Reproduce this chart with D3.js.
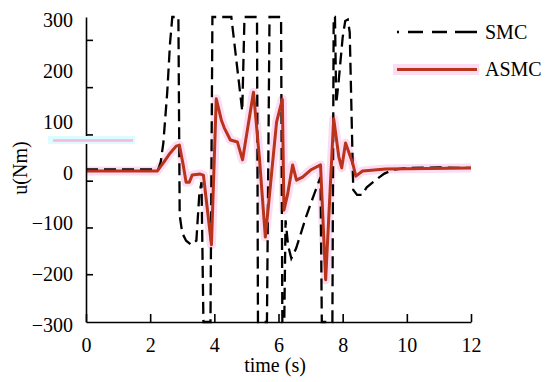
<!DOCTYPE html>
<html>
<head>
<meta charset="utf-8">
<script src="https://d3js.org/d3.v7.min.js"></script>
<style>
  body { margin: 0; background: #fff; }
  svg text { font-family: "Liberation Serif", "DejaVu Serif", serif; }
</style>
</head>
<body>
<div id="vis"></div>
<script>
//data----
const xTicks = [0, 2, 4, 6, 8, 10, 12]
const yLabels = [-300, -200, -100, 0, 100, 200, 300]
const yTickMarks = [-206, -114, -22, 69, 162, 255]

const tSMC = [0, 2.25, 2.33, 2.41, 2.53, 2.62, 2.69, 2.88, 2.92, 3.0, 3.12, 3.28, 3.44, 3.53, 3.6, 3.66,
    3.88, 3.94, 4.5, 4.53, 4.87, 4.94, 5.33, 5.36, 5.64, 5.72, 6.08, 6.12, 6.18, 6.22, 6.3, 6.4,
    6.55, 6.7, 6.85, 7.0, 7.15, 7.28, 7.31, 7.35, 7.68, 7.72, 7.76, 7.8, 7.87, 8.0, 8.08, 8.16,
    8.22, 8.28, 8.33, 8.45, 8.6, 8.75, 9.0, 9.3, 9.6, 10, 11, 12]
const uSMC = [0, 0, 15, 52, 150, 249, 300, 300, -90, -125, -140, -148, -140, -50, -25, -300,
    -300, 300, 300, 300, 115, 300, 300, -300, -300, 300, 300, -300, -300, -100, -150, -175,
    -155, -125, -95, -68, -42, -20, -15, -300, -300, 300, 300, 130, 170, 260, 292, 295,
    270, 100, -40, -50, -50, -35, -22, -8, 0, 3, 4, 3]

const tASMC = [0, 2.22, 2.41, 2.62, 2.81, 2.91, 3.03, 3.12, 3.22, 3.31, 3.56, 3.66, 3.91, 4.06,
    4.22, 4.31, 4.5, 4.72, 4.88, 5.22, 5.41, 5.59, 5.75, 5.94, 6.12, 6.17, 6.28, 6.44, 6.56,
    6.75, 7.0, 7.31, 7.47, 7.72, 7.88, 7.97, 8.09, 8.31, 8.41, 8.62, 9.34, 12]
const uASMC = [-3, -3, 13, 32, 46, 48, 9, -25, -25, -11, -9, -11, -148, 139,
    97, 82, 58, 54, 19, 152, 19, -133, -30, 93, 138, -80, -50, 9, -21,
    -15, -1, 9, -217, 100, 25, 3, 52, 13, -13, -3, 1, 3]

const serif = '"Liberation Serif", "DejaVu Serif", serif'

async function createApp(){

    //create dimensions---
    let dimensions = {
        width: 550,
        height: 382,
        margins: {left: 86, right: 79, top: 17, bottom: 60},
    }
    dimensions.boundedwidth = dimensions.width - dimensions.margins.left - dimensions.margins.right
    dimensions.boundedheight = dimensions.height - dimensions.margins.top - dimensions.margins.bottom

    const wrapper = d3.select("#vis")
        .append("svg")
        .attr("width", dimensions.width)
        .attr("height", dimensions.height)
        .attr("font-family", serif)

    const bounds = wrapper.append("g")
        .attr("transform", `translate(${dimensions.margins.left},${dimensions.margins.top})`)

    //scales----
    const xScale = d3.scaleLinear()
        .domain([0, 12])
        .range([0, dimensions.boundedwidth])

    const yScale = d3.scaleLinear()
        .domain([-300, 300])
        .range([dimensions.boundedheight, 0])

    //odd cyan/pink stripe left of the axis, as in the picture
    wrapper.append("rect")
        .attr("x", 48).attr("y", 136).attr("width", 87).attr("height", 8)
        .attr("fill", "#dcfdfd")
    wrapper.append("line")
        .attr("x1", 53).attr("x2", 133).attr("y1", 140.5).attr("y2", 140.5)
        .attr("stroke", "#f6b6e0").attr("stroke-width", 2.5)

    //lines----
    const line = d3.line()
        .x(d => xScale(d[0]))
        .y(d => yScale(d[1]))

    const smc = d3.zip(tSMC, uSMC)
    const asmc = d3.zip(tASMC, uASMC)

    bounds.append("path")
        .datum(asmc)
        .attr("d", line)
        .attr("fill", "none")
        .attr("stroke", "#fbd3ef")
        .attr("stroke-opacity", 0.8)
        .attr("stroke-width", 9)
        .attr("stroke-linejoin", "round")

    bounds.append("path")
        .datum(smc)
        .attr("d", line)
        .attr("fill", "none")
        .attr("stroke", "#000")
        .attr("stroke-width", 2.3)
        .attr("stroke-dasharray", "12,6")

    bounds.append("path")
        .datum(asmc)
        .attr("d", line)
        .attr("fill", "none")
        .attr("stroke", "#b9341b")
        .attr("stroke-width", 3)
        .attr("stroke-linejoin", "round")

    //axes----
    const xAxis = bounds.append("g")
        .attr("transform", `translate(0,${dimensions.boundedheight})`)
        .call(d3.axisBottom(xScale).tickValues(xTicks).tickSize(-8).tickSizeOuter(0))
    xAxis.selectAll("text")
        .attr("y", 30)
        .attr("dy", 0)

    const yAxis = bounds.append("g")
        .call(d3.axisLeft(yScale).tickValues(yLabels).tickSize(0).tickPadding(13))
    yAxis.selectAll("text").attr("dy", "0.48em")

    bounds.append("g")
        .call(d3.axisRight(yScale).tickValues(yTickMarks).tickSize(7).tickSizeOuter(0).tickFormat(""))
        .select(".domain").remove()

    bounds.selectAll("g").attr("font-family", serif).attr("font-size", 20)
    bounds.selectAll(".tick text")
        .attr("fill", "#000")
    bounds.selectAll(".domain, .tick line")
        .attr("stroke", "#000")
        .attr("stroke-width", 1.6)

    //axis labels
    wrapper.append("text")
        .attr("x", 275)
        .attr("y", 372)
        .attr("text-anchor", "middle")
        .attr("font-size", 20)
        .text("time (s)")

    wrapper.append("text")
        .attr("transform", "translate(27,168) rotate(-90)")
        .attr("text-anchor", "middle")
        .attr("font-size", 20)
        .text("u(Nm)")

    //legend----
    const legend = wrapper.append("g")
    legend.append("line")
        .attr("x1", 397).attr("x2", 477).attr("y1", 32).attr("y2", 32)
        .attr("stroke", "#000").attr("stroke-width", 2.3)
        .attr("stroke-dasharray", "2,9,15,9,15,8,23")
    legend.append("text")
        .attr("x", 485).attr("y", 38.5)
        .attr("font-size", 20)
        .text("SMC")

    legend.append("rect")
        .attr("x", 393).attr("y", 64).attr("width", 86).attr("height", 11)
        .attr("fill", "#fbd3ef")
        .attr("fill-opacity", 0.8)
    legend.append("line")
        .attr("x1", 397).attr("x2", 477).attr("y1", 69.5).attr("y2", 69.5)
        .attr("stroke", "#b9341b").attr("stroke-width", 3)
    legend.append("text")
        .attr("x", 485).attr("y", 76)
        .attr("font-size", 20)
        .text("ASMC")
}

createApp()
</script>
</body>
</html>
